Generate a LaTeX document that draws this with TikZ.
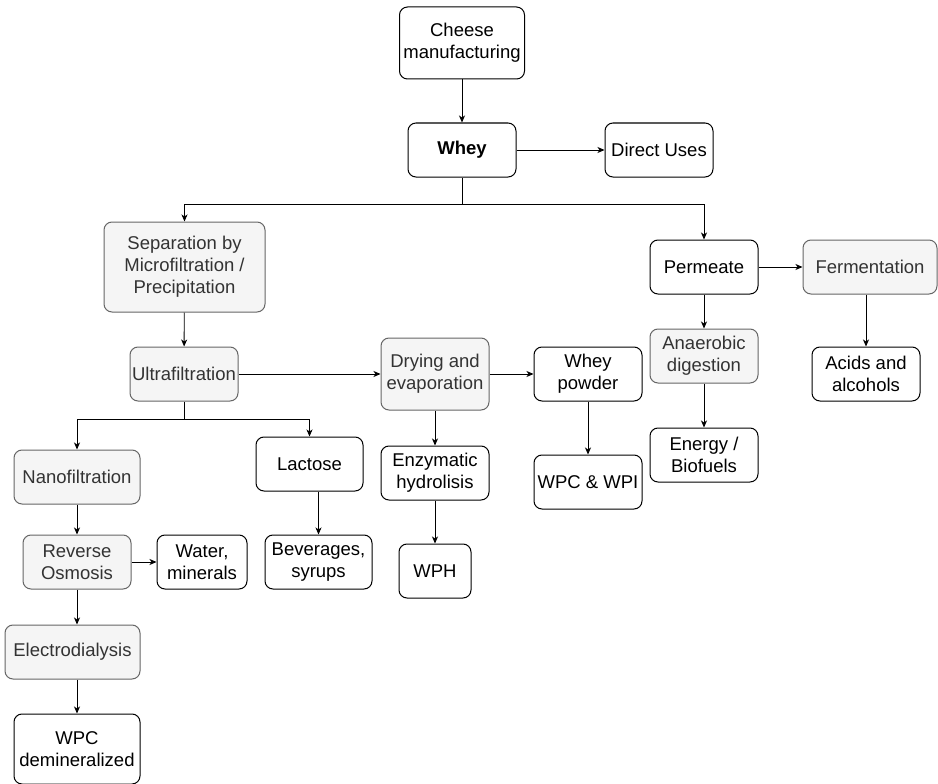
\documentclass[tikz,border=0pt]{standalone}
\usepackage{fontspec}
\setmainfont{Liberation Sans}
\usetikzlibrary{arrows.meta}
\definecolor{grayfill}{HTML}{F5F5F5}
\definecolor{graydraw}{HTML}{666666}
\definecolor{graytext}{HTML}{333333}
\begin{document}
\begin{tikzpicture}[x=1pt,y=-1pt,
  base/.style={rectangle, rounded corners=8pt, line width=1pt, align=center, inner sep=0pt,
    font=\fontsize{18.5}{22}\selectfont, minimum width=108pt, minimum height=54pt},
  wbox/.style={base, draw=black, fill=white, text=black},
  gbox/.style={base, draw=graydraw, fill=grayfill, text=graytext},
  arr/.style={line width=0.9pt, draw=black, -{Stealth[length=7pt,width=6pt,inset=2pt]}},
  ln/.style={line width=0.9pt, draw=black}]
\useasboundingbox (0,0) rectangle (938,784);
% nodes
\node[wbox, minimum width=125pt, minimum height=72pt] (cheese) at (462,43) {Cheese\\manufacturing};
\node[wbox] (whey) at (462,150) {\textbf{Whey}};
\node[wbox] (direct) at (659,150) {Direct Uses};
\node[gbox, minimum width=161pt, minimum height=90pt] (sep) at (184.5,267) {Separation by\\Microfiltration /\\Precipitation};
\node[wbox] (perm) at (704,267) {Permeate};
\node[gbox, minimum width=134pt] (ferm) at (870,267) {Fermentation};
\node[gbox] (ana) at (704,356) {Anaerobic\\digestion};
\node[wbox] (acids) at (866,374) {Acids and\\alcohols};
\node[wbox] (energy) at (704,455) {Energy /\\Biofuels};
\node[gbox] (uf) at (184,374) {Ultrafiltration};
\node[gbox, minimum height=72pt] (dry) at (435,374) {Drying and\\evaporation};
\node[wbox] (wpow) at (588,374) {Whey\\powder};
\node[wbox] (wpc) at (588,482) {WPC \& WPI};
\node[wbox] (enz) at (435,473) {Enzymatic\\hydrolisis};
\node[wbox, minimum width=72pt] (wph) at (435,571) {WPH};
\node[wbox, minimum width=107pt] (lac) at (309.5,464) {Lactose};
\node[wbox, minimum width=107pt] (bev) at (318.5,562) {Beverages,\\syrups};
\node[gbox, minimum width=126pt] (nano) at (77,477) {Nanofiltration};
\node[gbox] (ro) at (77,562) {Reverse\\Osmosis};
\node[wbox, minimum width=90pt] (water) at (202,562) {Water,\\minerals};
\node[gbox, minimum width=135pt] (elec) at (72.5,652) {Electrodialysis};
\node[wbox, minimum width=126pt, minimum height=70pt] (wpcd) at (77,749) {WPC\\demineralized};
% branch points
\coordinate (b1) at (462,204);
\coordinate (b2) at (184,419);
% connectors
\draw[arr] (cheese) -- (whey);
\draw[arr] (whey) -- (direct);
\draw[ln] (whey.south) -- (b1);
\draw[arr] (b1) -| (sep.north);
\draw[arr] (b1) -| (perm.north);
\draw[arr] (perm) -- (ferm);
\draw[arr] (perm) -- (ana);
\draw[arr] (ana) -- (energy);
\draw[arr] (ferm.south -| acids.north) -- (acids.north);
\draw[arr] (sep) -- (uf);
\draw[arr] (uf) -- (dry);
\draw[arr] (dry) -- (wpow);
\draw[arr] (wpow) -- (wpc);
\draw[arr] (dry) -- (enz);
\draw[arr] (enz) -- (wph);
\draw[ln] (uf.south) -- (b2);
\draw[arr] (b2) -| (nano.north);
\draw[arr] (b2) -| (lac.north);
\draw[arr] (lac.south -| bev.north) -- (bev.north);
\draw[arr] (nano) -- (ro);
\draw[arr] (ro) -- (water);
\draw[arr] (ro.south) -- (ro.south |- elec.north);
\draw[arr] (elec.south -| wpcd.north) -- (wpcd.north);
\end{tikzpicture}
\end{document}
